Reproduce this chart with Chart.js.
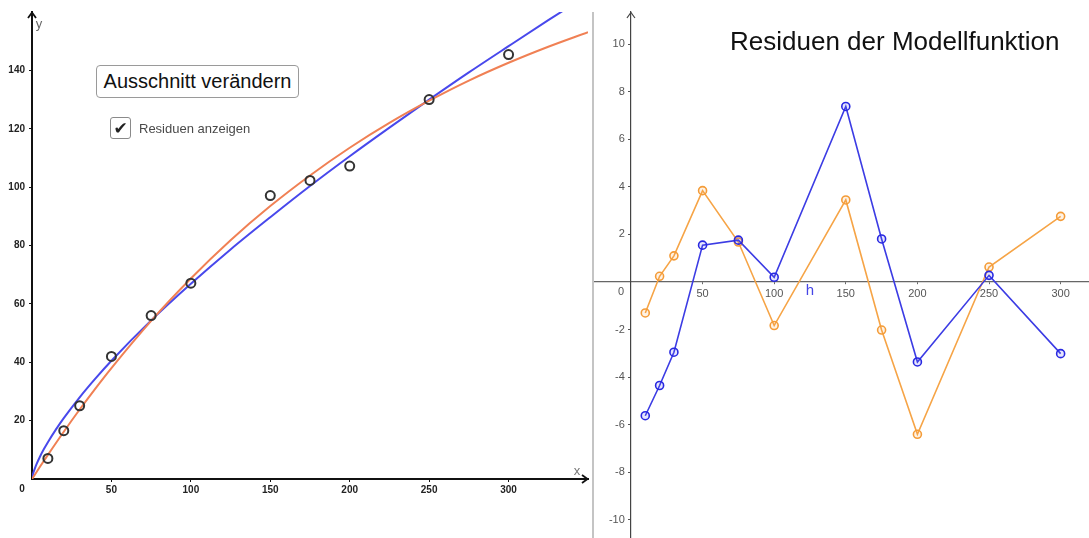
<!DOCTYPE html>
<html>
<head>
<meta charset="utf-8">
<script src="https://cdn.jsdelivr.net/npm/chart.js@4/dist/chart.umd.min.js"></script>
<style>
html,body{margin:0;padding:0;background:#fff;}
body{width:1089px;height:538px;position:relative;overflow:hidden;font-family:"Liberation Sans",Arial,sans-serif;}
#leftWrap{position:absolute;left:0;top:0;width:590px;height:538px;}
#rightWrap{position:absolute;left:594px;top:0;width:495px;height:538px;}
#divider{position:absolute;left:592px;top:12px;width:2px;height:526px;background:#c4c4c4;}
#btn{position:absolute;left:96px;top:65px;width:201px;height:31px;border:1px solid #9a9a9a;border-radius:4px;
  display:flex;align-items:center;justify-content:center;font-size:20px;color:#111;background:#fff;box-sizing:content-box;}
#chk{position:absolute;left:110px;top:117px;width:19px;height:20px;border:1px solid #8a8a8a;border-radius:3px;background:#fff;
  display:flex;align-items:center;justify-content:center;font-family:"DejaVu Sans",sans-serif;font-size:17px;color:#222;line-height:20px;}
#chkLabel{position:absolute;left:139px;top:120px;font-size:13px;line-height:17px;color:#4a4a4a;}
#title{position:absolute;left:730px;top:28px;font-size:26px;line-height:26px;color:#111;white-space:nowrap;}
</style>
</head>
<body>
<div id="leftWrap"><canvas id="leftChart" width="590" height="538"></canvas></div>
<div id="divider"></div>
<div id="rightWrap"><canvas id="rightChart" width="495" height="538"></canvas></div>
<div id="btn">Ausschnitt verändern</div>
<div id="chk">✔</div>
<div id="chkLabel">Residuen anzeigen</div>
<div id="title">Residuen der Modellfunktion</div>
<script>
// ---- data ----
const measX = [10, 20, 30, 50, 75, 100, 150, 175, 200, 250, 300];
const measY = [7.05, 16.55, 25.1, 42, 56, 67.1, 97.1, 102.3, 107.2, 130, 145.4];

const blueCurveX = [0, 0.5, 1, 2, 3, 5, 7.5, 10, 15, 20, 30, 40, 50, 75, 100, 125, 150, 175, 200, 225, 250, 275, 300, 325, 340];
const blueCurveY = [0, 1.44, 2.38, 3.93, 5.27, 7.64, 10.25, 12.62, 16.93, 20.85, 27.97, 34.45, 40.51, 54.34, 66.88, 78.66, 89.7, 100.4, 110.6, 120.4, 129.96, 139.3, 148.3, 157.2, 162.4];

const orangeCurveX = [0, 5, 10, 20, 30, 40, 50, 75, 100, 125, 150, 175, 200, 225, 250, 275, 300, 325, 350];
const orangeCurveY = [0, 4.18, 8.27, 16.2, 23.8, 31.07, 38.02, 54.2, 68.7, 81.8, 93.5, 104.0, 113.5, 122.0, 129.6, 136.5, 142.6, 148.1, 153.1];

const residX = [10, 20, 30, 50, 75, 100, 150, 175, 200, 250, 300];
const blueResid = [-5.62, -4.35, -2.95, 1.55, 1.76, 0.2, 7.38, 1.81, -3.36, 0.28, -3.01];
const orangeResid = [-1.3, 0.24, 1.1, 3.84, 1.68, -1.83, 3.45, -2.02, -6.4, 0.63, 2.76];

const leftXTicks = [50, 100, 150, 200, 250, 300];
const leftYTicks = [20, 40, 60, 80, 100, 120, 140];
const rightXTicks = [50, 100, 150, 200, 250, 300];
const rightYTicks = [-10, -8, -6, -4, -2, 2, 4, 6, 8, 10];

const zip = (xs, ys) => xs.map((x, i) => ({x: x, y: ys[i]}));
const noPad = s => { s.paddingLeft = 0; s.paddingRight = 0; s.paddingTop = 0; s.paddingBottom = 0; };

// ---- decoration plugin: arrows and axis letters ----
const axisDecor = {
  id: 'axisDecor',
  afterDraw(chart, args, o) {
    const {ctx, chartArea: a, scales: {x, y}} = chart;
    const ox = x.getPixelForValue(0), oy = y.getPixelForValue(0);
    ctx.save();
    ctx.strokeStyle = o.axisColor; ctx.lineWidth = o.arrowWidth;
    ctx.lineJoin = 'miter';
    ctx.beginPath();
    ctx.moveTo(ox - 4, a.top + 6); ctx.lineTo(ox, a.top + 0.5); ctx.lineTo(ox + 4, a.top + 6);
    ctx.stroke();
    if (o.xArrow) {
      ctx.beginPath();
      ctx.moveTo(a.right - 6, oy - 4); ctx.lineTo(a.right - 0.5, oy); ctx.lineTo(a.right - 6, oy + 4);
      ctx.stroke();
    }
    ctx.textAlign = 'center'; ctx.textBaseline = 'middle';
    ctx.font = o.zeroFont; ctx.fillStyle = o.zeroColor;
    ctx.fillText('0', ox - 10, oy + o.zeroDy);
    for (const lab of o.labels) {
      ctx.font = lab.font; ctx.fillStyle = lab.color;
      const px = lab.ax === 'x' ? x.getPixelForValue(lab.v) : (lab.ax === 'right' ? a.right : ox);
      const py = lab.ay === 'top' ? a.top : oy;
      ctx.fillText(lab.text, px + lab.dx, py + lab.dy);
    }
    ctx.restore();
  }
};

// ---- left chart ----
new Chart(document.getElementById('leftChart'), {
  type: 'scatter',
  data: {
    datasets: [
      {label: 'Messwerte', data: zip(measX, measY), showLine: false, order: 0,
       pointRadius: 4.5, pointHoverRadius: 4.5, pointBorderWidth: 2, borderColor: '#333', backgroundColor: 'rgba(255,255,255,0)'},
      {label: 'Potenzfunktion', data: zip(blueCurveX, blueCurveY), showLine: true, order: 2,
       borderColor: 'rgb(72,72,236)', borderWidth: 2, pointRadius: 0, cubicInterpolationMode: 'monotone'},
      {label: 'Exponentialfunktion', data: zip(orangeCurveX, orangeCurveY), showLine: true, order: 1,
       borderColor: 'rgb(240,128,84)', borderWidth: 2, pointRadius: 0, cubicInterpolationMode: 'monotone'}
    ]
  },
  options: {
    responsive: false, animation: false, devicePixelRatio: 1,
    layout: {autoPadding: false, padding: {top: 12, right: 2, left: 0, bottom: 0}},
    plugins: {
      legend: {display: false}, tooltip: {enabled: false},
      axisDecor: {
        axisColor: '#111', arrowWidth: 1.8, xArrow: true,
        zeroFont: 'bold 10px "Liberation Sans", Arial', zeroColor: '#222', zeroDy: 10,
        labels: [
          {text: 'y', font: '13px "Liberation Sans", Arial', color: '#666', ax: 'o', ay: 'top', dx: 7, dy: 12},
          {text: 'x', font: '13px "Liberation Sans", Arial', color: '#777', ax: 'right', ay: 'o', dx: -11, dy: -8}
        ]
      }
    },
    scales: {
      x: {
        type: 'linear', position: 'bottom', min: 0, max: 350,
        afterFit: s => { s.height = 59; noPad(s); },
        afterBuildTicks: s => { s.ticks = leftXTicks.map(v => ({value: v})); },
        border: {display: true, color: '#111', width: 2},
        grid: {display: true, drawOnChartArea: false, drawTicks: true, tickLength: 3, color: '#111', lineWidth: 1},
        ticks: {padding: 2, color: '#222', font: {family: '"Liberation Sans", Arial', size: 10, weight: 'bold'}, maxRotation: 0}
      },
      y: {
        type: 'linear', position: 'left', min: 0, max: 160,
        afterFit: s => { s.width = 32; noPad(s); },
        afterBuildTicks: s => { s.ticks = leftYTicks.map(v => ({value: v})); },
        border: {display: true, color: '#111', width: 2},
        grid: {display: true, drawOnChartArea: false, drawTicks: true, tickLength: 3, color: '#111', lineWidth: 1},
        ticks: {padding: 4, color: '#222', font: {family: '"Liberation Sans", Arial', size: 10, weight: 'bold'}}
      }
    }
  },
  plugins: [axisDecor]
});

// ---- right chart (residuals) ----
const rYMin = -10.76, rYMax = 11.35;
new Chart(document.getElementById('rightChart'), {
  type: 'scatter',
  data: {
    datasets: [
      {label: 'Residuen Potenzfunktion', data: zip(residX, blueResid), showLine: true, order: 0,
       borderColor: 'rgb(60,60,228)', borderWidth: 1.6, pointRadius: 4, pointHoverRadius: 4, pointBorderWidth: 1.6,
       pointBorderColor: 'rgb(40,40,225)', pointBackgroundColor: 'rgba(90,90,240,0.15)', tension: 0},
      {label: 'Residuen Exponentialfunktion', data: zip(residX, orangeResid), showLine: true, order: 1,
       borderColor: 'rgb(246,164,70)', borderWidth: 1.6, pointRadius: 4, pointHoverRadius: 4, pointBorderWidth: 1.6,
       pointBorderColor: 'rgb(244,156,56)', pointBackgroundColor: 'rgba(246,170,80,0.15)', tension: 0}
    ]
  },
  options: {
    responsive: false, animation: false, devicePixelRatio: 1,
    layout: {autoPadding: false, padding: {top: 12, right: 0, left: 0, bottom: 0}},
    plugins: {
      legend: {display: false}, tooltip: {enabled: false},
      axisDecor: {
        axisColor: '#444', arrowWidth: 1.2, xArrow: false,
        zeroFont: '11px "Liberation Sans", Arial', zeroColor: '#555', zeroDy: 10,
        labels: [
          {text: 'h', font: '15px "Liberation Sans", Arial', color: 'rgb(70,70,230)', ax: 'x', v: 125, ay: 'o', dx: 0, dy: 9}
        ]
      }
    },
    scales: {
      x: {
        type: 'linear', position: {y: 0}, min: -25.8, max: 319.8,
        afterFit: s => { s.height = 0; noPad(s); },
        afterBuildTicks: s => { s.ticks = rightXTicks.map(v => ({value: v})); },
        border: {display: true, color: '#666', width: 1.2},
        grid: {display: true, drawOnChartArea: false, drawTicks: true, tickLength: 2, color: '#666', lineWidth: 1},
        ticks: {padding: 3, color: '#555', font: {family: '"Liberation Sans", Arial', size: 11}, maxRotation: 0}
      },
      y: {
        type: 'linear', position: {x: 0}, min: rYMin, max: rYMax,
        afterFit: s => { s.width = 0; noPad(s); },
        afterBuildTicks: s => { s.ticks = rightYTicks.map(v => ({value: v})); },
        border: {display: true, color: '#444', width: 1.2},
        grid: {display: true, drawOnChartArea: false, drawTicks: true, tickLength: 2, color: '#555', lineWidth: 1},
        ticks: {display: false}
      },
      yLabels: {
        type: 'linear', axis: 'y', position: {x: -4.3}, min: rYMin, max: rYMax,
        afterFit: s => { s.width = 0; noPad(s); },
        afterBuildTicks: s => { s.ticks = rightYTicks.map(v => ({value: v})); },
        border: {display: false},
        grid: {display: false},
        ticks: {color: '#555', font: {family: '"Liberation Sans", Arial', size: 11}}
      }
    }
  },
  plugins: [axisDecor]
});
</script>
</body>
</html>
